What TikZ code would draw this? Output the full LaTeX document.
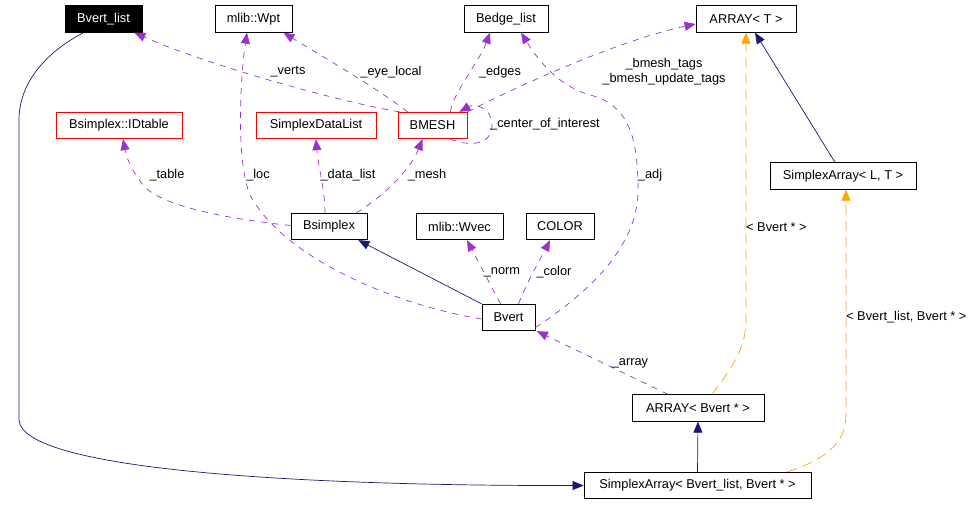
\documentclass[tikz,border=0pt]{standalone}
\usepackage{fontspec}
\setmainfont{Liberation Sans}
\usetikzlibrary{arrows.meta}
\definecolor{navyc}{RGB}{25,25,112}
\definecolor{purplec}{RGB}{153,50,204}
\definecolor{orangec}{RGB}{255,165,0}
\begin{document}
\begin{tikzpicture}[x=1pt,y=-1pt,
  font=\fontsize{12.8}{14.5}\selectfont,
  box/.style={draw=black,line width=0.8pt,inner sep=0pt,minimum height=26.5pt,fill=white},
  redbox/.style={box,draw=red},
  blackbox/.style={box,fill=black,text=white},
  tip/.style={-{Triangle[length=11pt,width=9pt]}},
  inh/.style={tip,draw=navyc,line width=0.7pt,color=navyc},
  use/.style={tip,draw=purplec,color=purplec,line width=0.7pt,dash pattern=on 6pt off 6pt},
  tmpl/.style={tip,draw=orangec,color=orangec,line width=0.7pt,dash pattern=on 10pt off 6pt},
  lbl/.style={inner sep=0pt,text=black}]
\useasboundingbox (0,0) rectangle (979,504);
% nodes
\node[blackbox,minimum width=77pt] (bvl) at (103.5,19) {Bvert\_list};
\node[box,minimum width=77pt] (wpt) at (253.5,19) {mlib::Wpt};
\node[box,minimum width=84pt] (bedge) at (506,19) {Bedge\_list};
\node[box,minimum width=100pt] (arrT) at (746,19) {ARRAY< T >};
\node[redbox,minimum width=126pt] (idt) at (119,125.5) {Bsimplex::IDtable};
\node[redbox,minimum width=120pt] (sdl) at (316,125.5) {SimplexDataList};
\node[redbox,minimum width=69pt] (bmesh) at (432.5,125.5) {BMESH};
\node[box,minimum width=146pt] (saLT) at (843,176) {SimplexArray< L, T >};
\node[box,minimum width=76pt] (bsx) at (329,226.5) {Bsimplex};
\node[box,minimum width=87pt] (wvec) at (459.5,226.5) {mlib::Wvec};
\node[box,minimum width=68pt] (color) at (560,226.5) {COLOR};
\node[box,minimum width=53pt] (bvert) at (508.5,317.5) {Bvert};
\node[box,minimum width=132pt] (arrB) at (698,408) {ARRAY< Bvert * >};
\node[box,minimum width=227pt] (saB) at (697.5,485.5) {SimplexArray< Bvert\_list, Bvert * >};
% navy inheritance / template edges
\draw[inh] ([xshift=-20pt]bvl.south) .. controls (50,50) and (19,80) .. (19,120) -- (19,420) .. controls (22,470) and (300,486) .. (saB.west);
\draw[inh] (bvert.north west) -- ([xshift=-9pt]bsx.south east);
\draw[inh] ([xshift=-8pt]saLT.north) -- ([xshift=9pt]arrT.south);
\draw[inh] (saB.north) -- (arrB.south);
% purple usage edges
\draw[use] ([xshift=2pt]bmesh.north west) .. controls (330,100) and (200,62) .. ([xshift=-8pt]bvl.south east);
\draw[use] ([xshift=10pt]bmesh.north west) .. controls (380,90) and (320,55) .. ([xshift=-9pt]wpt.south east);
\draw[use] ([yshift=-1.5pt]bvert.west) .. controls (400,306) and (285,260) .. (250,195) .. controls (236,160) and (240,80) .. ([xshift=-6.5pt]wpt.south);
\draw[use] ([xshift=-17pt]bmesh.north east) .. controls (452,95) and (480,60) .. ([xshift=-16pt]bedge.south);
\draw[use] ([yshift=-10pt]bvert.east) .. controls (600,285) and (638,240) .. (638,190) .. controls (638,140) and (630,105) .. (590,95) .. controls (555,85) and (535,55) .. ([xshift=15pt]bedge.south);
\draw[use] (bmesh.north east) .. controls (520,85) and (620,40) .. ([yshift=-5pt]arrT.west);
\draw[use] ([xshift=-17pt]bmesh.south east) .. controls (470,147) and (492,145) .. (492,125) .. controls (492,108) and (475,103) .. ([xshift=-8pt]bmesh.north east);
\draw[use] ([yshift=1pt]bsx.west) .. controls (220,218) and (160,205) .. (143,185) .. controls (133,172) and (127,160) .. ([xshift=4pt]idt.south);
\draw[use] ([xshift=-4pt]bsx.north) .. controls (325,190) and (318,165) .. (sdl.south);
\draw[use] ([xshift=-11pt]bsx.north east) .. controls (385,195) and (410,170) .. ([xshift=-10pt]bmesh.south);
\draw[use] ([xshift=-8pt]bvert.north) -- ([xshift=7.5pt]wvec.south);
\draw[use] ([xshift=10pt]bvert.north) .. controls (528,280) and (540,260) .. ([xshift=-10pt]color.south);
\draw[use] ([xshift=-30pt]arrB.north) -- ([xshift=1.5pt]bvert.south east);
% orange template edges
\draw[tmpl] ([xshift=14pt]arrB.north) .. controls (730,370) and (746,350) .. (746,320) -- (arrT.south);
\draw[tmpl] ([xshift=-24pt]saB.north east) .. controls (830,458) and (846,440) .. (846,415) -- ([xshift=3pt]saLT.south);
% labels
\node[lbl] (l1) at (288,72) {\_verts};
\node[lbl] (l2) at (391,72) {\_eye\_local};
\node[lbl] (l3) at (500,72) {\_edges};
\node[lbl,align=center] (l4) at (664,71.5) {\_bmesh\_tags\\\_bmesh\_update\_tags};
\node[lbl,anchor=west] (l5) at (490,124) {\_center\_of\_interest};
\node[lbl] (l6) at (650,175) {\_adj};
\node[lbl] (l7) at (167,175) {\_table};
\node[lbl] (l8) at (258,175) {\_loc};
\node[lbl] (l9) at (348,175) {\_data\_list};
\node[lbl] (l10) at (427,175) {\_mesh};
\node[lbl] (l11) at (502,272) {\_norm};
\node[lbl] (l12) at (554,272) {\_color};
\node[lbl,anchor=west] (l13) at (746,227) {< Bvert * >};
\node[lbl,anchor=west] (l14) at (846,317) {< Bvert\_list, Bvert * >};
\node[lbl] (l15) at (630,363) {\_array};
\end{tikzpicture}
\end{document}
